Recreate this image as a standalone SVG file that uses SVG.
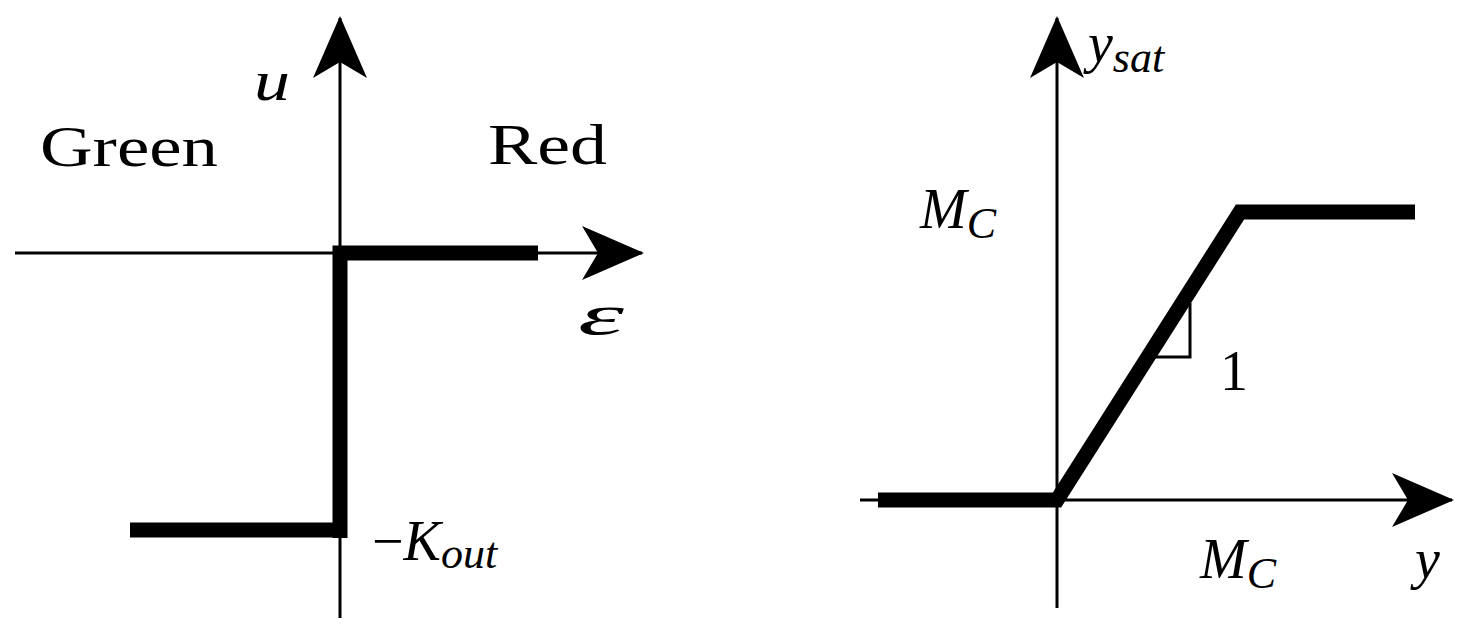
<svg xmlns="http://www.w3.org/2000/svg" width="1462" height="638" viewBox="0 0 1462 638">
<style>
.ax{stroke:#000;stroke-width:3;fill:none}
.th{stroke:#000;stroke-width:15;fill:none}
.t{font-family:"Liberation Serif",serif;font-size:56px;fill:#000}
.i{font-style:italic}
</style>
<defs>
<marker id="ah" markerWidth="62" markerHeight="54" refX="60" refY="27" orient="auto" markerUnits="userSpaceOnUse">
<path d="M0,0 L62,27 L0,54 L16,27 Z" fill="#000"/>
</marker>
</defs>
<rect width="1462" height="638" fill="#fff"/>
<g id="connectors">
<line class="ax" x1="340" y1="618" x2="340" y2="18" marker-end="url(#ah)"/>
<line class="ax" x1="15" y1="253" x2="642" y2="253" marker-end="url(#ah)"/>
<line class="ax" x1="1057" y1="608" x2="1057" y2="18" marker-end="url(#ah)"/>
<line class="ax" x1="860" y1="500" x2="1452" y2="500" marker-end="url(#ah)"/>
</g>
<g id="left-curve">
<polyline class="th" points="538,253 340,253 340,538"/>
<line class="th" x1="130" y1="530" x2="345" y2="530"/>
</g>
<g id="right-curve">
<polyline class="th" points="878,500 1057,500 1240,212 1415,212"/>
<polyline class="ax" points="1190,303 1190,357 1152,357"/>
</g>
<g id="labels">
<text class="t i" x="254" y="100" textLength="36" lengthAdjust="spacingAndGlyphs">u</text>
<text class="t" x="40" y="166" textLength="178" lengthAdjust="spacingAndGlyphs">Green</text>
<text class="t" x="488" y="164" textLength="119" lengthAdjust="spacingAndGlyphs">Red</text>
<text class="t i" x="578" y="334" textLength="46" lengthAdjust="spacingAndGlyphs">ε</text>
<text class="t" x="372" y="560">−<tspan class="i">K</tspan><tspan class="i" font-size="44" dy="8">out</tspan></text>
<text class="t i" x="1088" y="62">y<tspan font-size="44" dy="10">sat</tspan></text>
<text class="t i" x="920" y="228">M<tspan font-size="44" dy="10">C</tspan></text>
<text class="t" x="1220" y="390">1</text>
<text class="t i" x="1200" y="578">M<tspan font-size="44" dy="10">C</tspan></text>
<text class="t i" x="1415" y="578">y</text>
</g>
</svg>
